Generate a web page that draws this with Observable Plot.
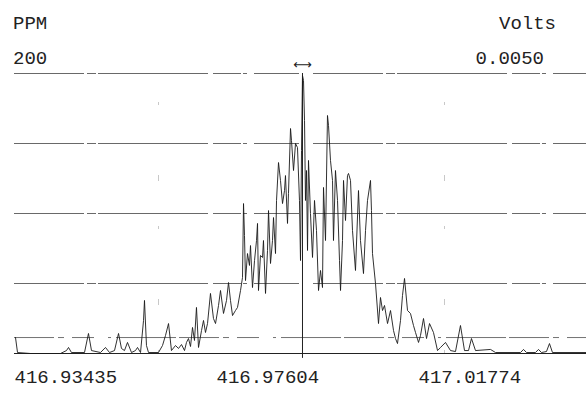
<!DOCTYPE html>
<html>
<head>
<meta charset="utf-8">
<script src="https://cdn.jsdelivr.net/npm/d3@7"></script>
<script src="https://cdn.jsdelivr.net/npm/@observablehq/plot@0.6"></script>
<style>
  html, body { margin: 0; padding: 0; background: #fff; }
  #wrap { position: relative; width: 586px; height: 393px; overflow: hidden; font-family: "Liberation Mono", "DejaVu Sans Mono", monospace; color: #222; }
  .lbl { position: absolute; font-size: 19px; line-height: 19px; white-space: nowrap; }
</style>
</head>
<body>
<div id="wrap">
  <div class="lbl" id="tl1" style="left:13px; top:15px;"></div>
  <div class="lbl" id="tl2" style="left:13px; top:50px;"></div>
  <div class="lbl" id="tr1" style="right:30px; top:15px;"></div>
  <div class="lbl" id="tr2" style="right:42px; top:50px;"></div>
</div>
<script>
// ---- data ----
const leftUnit = "PPM";
const leftMax = "200";
const rightUnit = "Volts";
const rightMax = "0.0050";

const xTicks = [416.93435, 416.97604, 417.01774];
const gridLevels = [200, 150, 100, 50];
const thresholdLevel = [11.4];
const centerMass = [416.99379];
const sideMasses = [416.96407, 417.02310];
const yMax = 200;
const xDomain = [416.93435, 417.05241];

const mass = [
  416.93456, 416.93497, 416.93765, 416.94384, 416.94508, 416.94550, 416.94611, 416.94880, 416.94962, 416.95024,
  416.95210, 416.95313, 416.95396, 416.95499, 416.95582, 416.95643, 416.95705, 416.95767, 416.95850, 416.95932,
  416.95974, 416.96036, 416.96098, 416.96118, 416.96159, 416.96201, 416.96407, 416.96490, 416.96552, 416.96614,
  416.96675, 416.96758, 416.96820, 416.96882, 416.96944, 416.96985, 416.97026, 416.97068, 416.97109, 416.97150,
  416.97191, 416.97233, 416.97295, 416.97336, 416.97377, 416.97419, 416.97480, 416.97542, 416.97584, 416.97646,
  416.97687, 416.97749, 416.97811, 416.97852, 416.97893, 416.97935, 416.97996, 416.98038, 416.98100, 416.98141,
  416.98162, 416.98182, 416.98203, 416.98244, 416.98285, 416.98306, 416.98347, 416.98389, 416.98430, 416.98451,
  416.98471, 416.98512, 416.98554, 416.98574, 416.98616, 416.98657, 416.98678, 416.98719, 416.98760, 416.98781,
  416.98822, 416.98843, 416.98884, 416.98925, 416.98967, 416.99008, 416.99028, 416.99070, 416.99090, 416.99132,
  416.99152, 416.99194, 416.99235, 416.99276, 416.99317, 416.99338, 416.99359, 416.99379, 416.99400, 416.99421,
  416.99441, 416.99462, 416.99483, 416.99503, 416.99544, 416.99586, 416.99627, 416.99668, 416.99710, 416.99751,
  416.99792, 416.99813, 416.99854, 416.99895, 416.99916, 416.99957, 416.99999, 417.00019, 417.00060, 417.00102,
  417.00143, 417.00164, 417.00205, 417.00226, 417.00267, 417.00308, 417.00329, 417.00370, 417.00411, 417.00473,
  417.00535, 417.00576, 417.00638, 417.00680, 417.00721, 417.00783, 417.00803, 417.00824, 417.00886, 417.00948,
  417.00989, 417.01031, 417.01072, 417.01134, 417.01196, 417.01258, 417.01299, 417.01340, 417.01402, 417.01443,
  417.01485, 417.01547, 417.01608, 417.01670, 417.01712, 417.01774, 417.01815, 417.01877, 417.01939, 417.02001,
  417.02083, 417.02166, 417.02228, 417.02331, 417.02434, 417.02537, 417.02640, 417.02723, 417.02806, 417.02867,
  417.02950, 417.03260, 417.03363, 417.03879, 417.03941, 417.04003, 417.04188, 417.04250, 417.04312, 417.04415,
  417.04477, 417.04539, 417.05241
];

const ppm = [
  11.4, 0.7, 0, 0, 2.1, 4.3, 0.7, 0.7, 14.3, 2.1,
  0.7, 4.3, 0.7, 2.1, 14.3, 3.6, 2.1, 7.9, 0.7, 2.1,
  4.3, 0.7, 23.6, 37.9, 5.7, 0.7, 0.7, 5.7, 12.9, 21.4,
  2.1, 5.7, 3.6, 6.4, 2.1, 7.9, 10.7, 5.0, 18.6, 9.3,
  32.9, 4.3, 16.4, 23.6, 15.0, 21.4, 42.9, 25.0, 21.4, 34.3,
  45.0, 28.6, 37.9, 50.7, 37.9, 27.1, 30.7, 32.9, 45.0, 54.3,
  107.1, 84.3, 52.1, 71.4, 62.9, 77.1, 47.1, 66.4, 80.7, 92.9,
  45.0, 70.0, 68.6, 80.7, 42.9, 73.6, 102.1, 64.3, 80.7, 97.1,
  71.4, 109.3, 136.4, 123.6, 107.1, 116.4, 127.1, 92.9, 114.3, 160.7,
  152.1, 130.7, 150.0, 147.1, 109.3, 66.4, 145.0, 198.6, 195.0, 166.4,
  109.3, 130.7, 73.6, 137.9, 100.0, 68.6, 109.3, 87.9, 45.0, 59.3,
  47.1, 118.6, 80.7, 170.0, 162.9, 137.9, 123.6, 80.7, 130.7, 109.3,
  66.4, 45.0, 80.7, 123.6, 95.0, 127.1, 128.6, 123.6, 87.9, 59.3,
  116.4, 80.7, 57.1, 87.9, 109.3, 123.6, 102.1, 71.4, 50.0, 21.4,
  40.0, 30.7, 34.3, 21.4, 30.7, 16.4, 10.7, 7.1, 23.6, 41.4,
  53.6, 30.7, 28.6, 20.0, 15.0, 7.9, 12.9, 25.0, 10.7, 21.4,
  15.0, 2.1, 4.3, 7.9, 2.1, 1.4, 20.0, 2.1, 2.1, 10.7,
  2.1, 2.9, 0.7, 0.7, 2.9, 0.7, 0.7, 2.9, 0.7, 1.4,
  7.1, 0.7, 0.7
];

// ---- chart ----
document.getElementById("tl1").textContent = leftUnit;
document.getElementById("tl2").textContent = leftMax;
document.getElementById("tr1").textContent = rightUnit;
document.getElementById("tr2").textContent = rightMax;

const spectrum = mass.map((m, i) => ({mass: m, ppm: ppm[i]}));
const font = "Liberation Mono, DejaVu Sans Mono, monospace";

const chart = Plot.plot({
  width: 586,
  height: 393,
  marginTop: 73,
  marginBottom: 40,
  marginLeft: 14,
  marginRight: 0,
  style: {fontFamily: font, background: "transparent", color: "#222", overflow: "visible"},
  x: {domain: xDomain},
  y: {domain: [0, yMax], axis: null},
  marks: [
    Plot.ruleX(sideMasses, {y1: 0, y2: yMax, stroke: "#888", strokeWidth: 0.8, strokeDasharray: "3,45,6,70", strokeOpacity: 0.6}),
    Plot.ruleY(gridLevels, {stroke: "#444", strokeWidth: 1, strokeDasharray: "70,3,9,2,110,5,28,2,4,7,45,14", strokeOpacity: 0.8}),
    Plot.ruleY(thresholdLevel, {stroke: "#444", strokeWidth: 1, strokeDasharray: "40,4,6,8,22,14,3,5,60,3", strokeOpacity: 0.75}),
    Plot.ruleY([0], {stroke: "#222", strokeWidth: 1.2}),
    Plot.ruleX(centerMass, {y1: -3.5, y2: yMax, stroke: "#222", strokeWidth: 1}),
    Plot.line(spectrum, {x: "mass", y: "ppm", stroke: "#1a1a1a", strokeWidth: 0.9}),
    Plot.text(centerMass, {x: d => d, y: yMax, dy: -9, text: () => "\u27F7", fontSize: 13, fontFamily: "DejaVu Sans", fill: "#222"}),
    Plot.axisX({ticks: xTicks, tickFormat: d => d.toFixed(5), tickSize: 0, tickPadding: 16, textAnchor: "start", fontSize: 19, fontFamily: font, fill: "#222", label: null})
  ]
});
document.getElementById("wrap").prepend(chart);
chart.style.position = "absolute";
chart.style.left = "0px";
chart.style.top = "0px";
</script>
</body>
</html>
